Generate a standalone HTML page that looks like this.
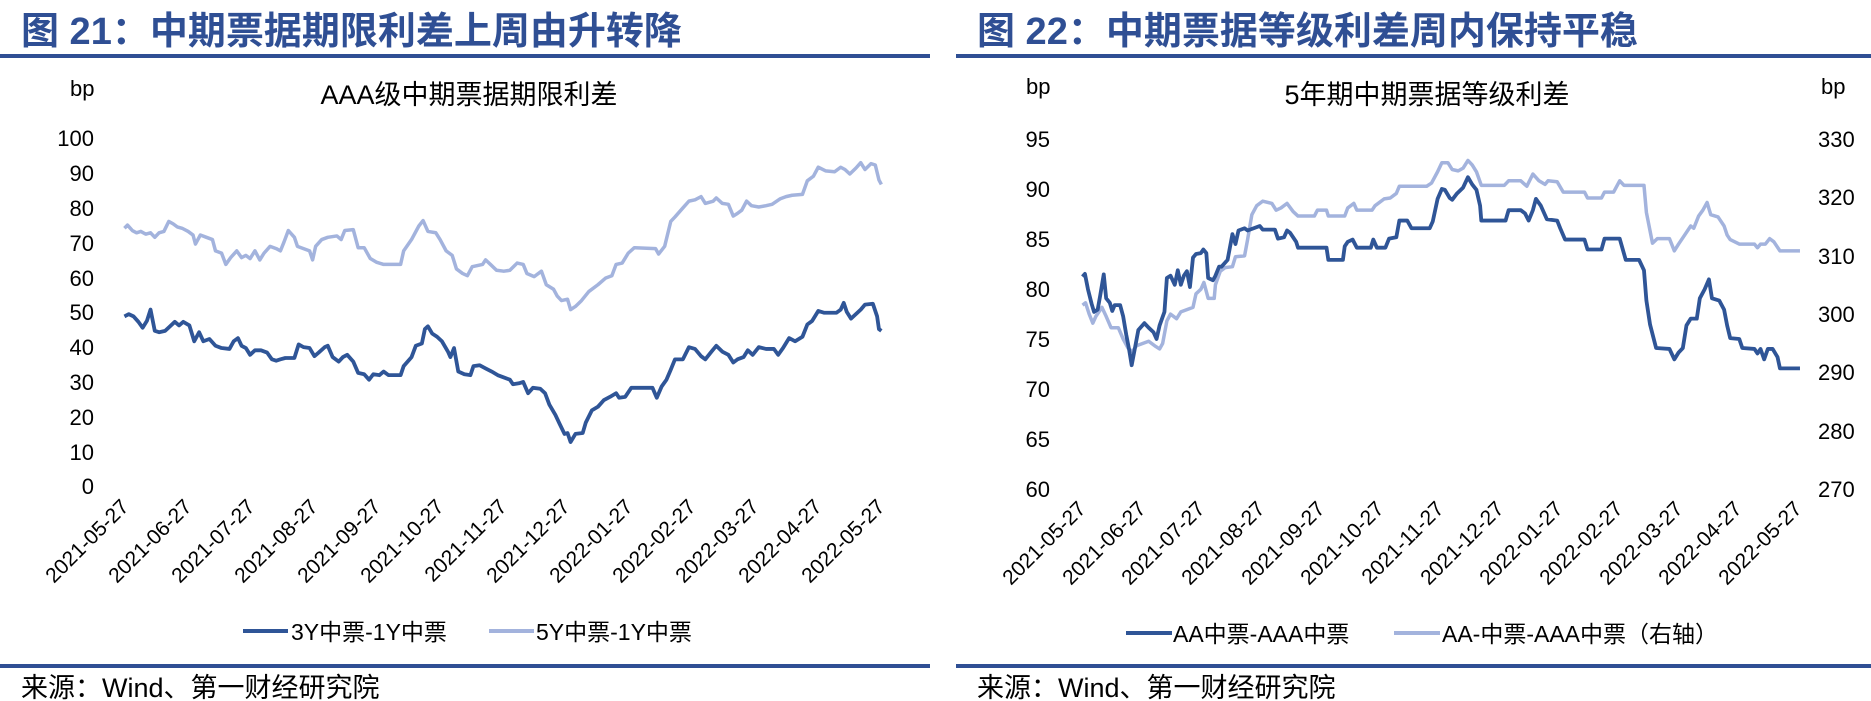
<!DOCTYPE html>
<html><head><meta charset="utf-8"><style>
html,body{margin:0;padding:0;background:#fff;width:1871px;height:701px;overflow:hidden}
svg{display:block}
text{font-family:"Liberation Sans","Noto Sans CJK SC",sans-serif;fill:#000}
.t{font-size:38px;font-weight:bold;fill:#2F4F94}
.ct{font-size:27px}
.yl{font-size:22px}
.xl{font-size:21px}
.lg{font-size:23px}
.src{font-size:27px}
</style></head><body>
<svg width="1871" height="701" viewBox="0 0 1871 701" xmlns="http://www.w3.org/2000/svg">
<!-- LEFT PANEL -->
<text class="t" x="21" y="44">图 21：中期票据期限利差上周由升转降</text>
<rect x="0" y="54" width="930" height="4" fill="#2F4F94"/>
<text class="ct" x="469" y="104" text-anchor="middle">AAA级中期票据期限利差</text>
<text class="yl" x="70" y="96">bp</text>
<g class="yl" text-anchor="end">
<text x="94" y="146">100</text><text x="94" y="181">90</text><text x="94" y="216">80</text>
<text x="94" y="251">70</text><text x="94" y="286">60</text><text x="94" y="320">50</text>
<text x="94" y="355">40</text><text x="94" y="390">30</text><text x="94" y="425">20</text>
<text x="94" y="460">10</text><text x="94" y="494">0</text>
</g>
<g class="xl" text-anchor="end">
<text transform="translate(130,508) rotate(-45)">2021-05-27</text>
<text transform="translate(193,508) rotate(-45)">2021-06-27</text>
<text transform="translate(256,508) rotate(-45)">2021-07-27</text>
<text transform="translate(319,508) rotate(-45)">2021-08-27</text>
<text transform="translate(382,508) rotate(-45)">2021-09-27</text>
<text transform="translate(445,508) rotate(-45)">2021-10-27</text>
<text transform="translate(508,508) rotate(-45)">2021-11-27</text>
<text transform="translate(571,508) rotate(-45)">2021-12-27</text>
<text transform="translate(634,508) rotate(-45)">2022-01-27</text>
<text transform="translate(697,508) rotate(-45)">2022-02-27</text>
<text transform="translate(760,508) rotate(-45)">2022-03-27</text>
<text transform="translate(823,508) rotate(-45)">2022-04-27</text>
<text transform="translate(886,508) rotate(-45)">2022-05-27</text>
</g>
<g transform="scale(0.607,0.452)" fill="none" stroke-linejoin="round">
<polyline vector-effect="non-scaling-stroke" stroke="#A3B3DD" stroke-width="3.5" points="205,505 210,498 218,510 225,515 232,512 240,518 248,515 255,525 262,515 270,512 278,490 285,495 292,502 300,505 310,512 318,520 322,540 330,520 340,525 350,530 355,555 365,560 372,585 380,570 390,555 398,570 405,565 412,572 420,555 428,575 435,560 445,545 455,550 462,555 468,535 475,510 485,525 490,545 500,550 510,555 515,575 520,545 530,530 540,525 555,522 562,530 568,510 582,508 590,548 600,548 610,572 620,580 632,585 660,585 665,555 678,530 690,500 697,488 705,512 718,515 725,530 735,555 745,565 752,595 762,605 770,610 778,590 795,585 800,575 808,585 818,598 830,600 840,598 852,582 862,585 868,605 880,612 892,600 900,630 912,640 918,655 925,665 935,662 940,685 948,678 958,665 970,645 985,630 998,615 1008,610 1015,585 1025,582 1035,560 1045,548 1080,550 1085,562 1095,545 1105,490 1112,480 1125,460 1135,445 1145,442 1155,435 1162,450 1175,445 1180,438 1190,450 1200,452 1208,478 1215,472 1222,465 1230,445 1238,455 1250,458 1262,455 1272,452 1285,440 1295,435 1305,432 1322,430 1330,400 1340,390 1348,370 1360,378 1375,380 1385,370 1392,375 1400,385 1410,372 1418,360 1425,375 1435,362 1442,365 1448,398 1452,408"/>
<polyline vector-effect="non-scaling-stroke" stroke="#2F5597" stroke-width="3.8" points="205,700 212,695 220,700 228,712 235,725 242,710 248,685 255,732 262,735 272,732 280,722 288,712 295,720 302,712 312,720 320,755 328,735 335,755 345,750 355,765 365,770 378,772 385,755 392,748 398,765 405,770 412,785 420,775 430,775 440,780 448,795 455,798 462,795 470,792 485,792 492,762 500,768 510,770 518,788 525,780 535,768 540,765 548,790 558,800 565,790 572,785 582,800 590,825 600,828 608,840 615,828 625,830 632,822 640,830 660,830 665,810 678,790 685,765 695,760 700,728 705,722 712,738 720,745 728,755 738,778 742,790 748,770 755,822 765,828 775,830 780,810 790,808 800,815 810,822 820,830 830,835 840,840 845,850 855,848 862,845 870,870 878,858 890,860 898,870 905,895 915,918 922,938 930,960 935,958 940,978 948,960 960,958 965,935 975,908 985,900 995,885 1005,878 1015,870 1020,880 1030,878 1040,858 1075,858 1082,880 1090,855 1098,840 1105,818 1112,795 1125,795 1135,768 1145,772 1155,788 1162,795 1172,778 1180,765 1190,778 1200,785 1208,802 1215,795 1225,790 1232,775 1240,785 1250,768 1262,772 1275,772 1282,785 1290,770 1300,748 1310,755 1322,745 1330,718 1338,710 1348,688 1358,692 1378,692 1385,685 1390,670 1395,690 1402,705 1410,695 1418,685 1425,674 1438,672 1445,700 1448,728 1452,732"/>
</g>
<rect x="243" y="629" width="45" height="4" fill="#2F5597"/>
<text class="lg" x="291" y="640">3Y中票-1Y中票</text>
<rect x="489" y="629" width="45" height="4" fill="#A3B3DD"/>
<text class="lg" x="536" y="640">5Y中票-1Y中票</text>
<rect x="0" y="664" width="930" height="4" fill="#2F4F94"/>
<text class="src" x="21" y="697">来源：Wind、第一财经研究院</text>

<!-- RIGHT PANEL -->
<text class="t" x="977" y="44">图 22：中期票据等级利差周内保持平稳</text>
<rect x="956" y="54" width="915" height="4" fill="#2F4F94"/>
<text class="ct" x="1427" y="104" text-anchor="middle">5年期中期票据等级利差</text>
<text class="yl" x="1026" y="94">bp</text>
<text class="yl" x="1821" y="94">bp</text>
<g class="yl" text-anchor="end">
<text x="1050" y="147">95</text><text x="1050" y="197">90</text><text x="1050" y="247">85</text>
<text x="1050" y="297">80</text><text x="1050" y="347">75</text><text x="1050" y="397">70</text>
<text x="1050" y="447">65</text><text x="1050" y="497">60</text>
</g>
<g class="yl">
<text x="1818" y="147">330</text><text x="1818" y="205">320</text><text x="1818" y="264">310</text>
<text x="1818" y="322">300</text><text x="1818" y="380">290</text><text x="1818" y="439">280</text>
<text x="1818" y="497">270</text>
</g>
<g class="xl" text-anchor="end">
<text transform="translate(1087,510) rotate(-45)">2021-05-27</text>
<text transform="translate(1147,510) rotate(-45)">2021-06-27</text>
<text transform="translate(1206,510) rotate(-45)">2021-07-27</text>
<text transform="translate(1266,510) rotate(-45)">2021-08-27</text>
<text transform="translate(1326,510) rotate(-45)">2021-09-27</text>
<text transform="translate(1385,510) rotate(-45)">2021-10-27</text>
<text transform="translate(1445,510) rotate(-45)">2021-11-27</text>
<text transform="translate(1505,510) rotate(-45)">2021-12-27</text>
<text transform="translate(1564,510) rotate(-45)">2022-01-27</text>
<text transform="translate(1624,510) rotate(-45)">2022-02-27</text>
<text transform="translate(1684,510) rotate(-45)">2022-03-27</text>
<text transform="translate(1743,510) rotate(-45)">2022-04-27</text>
<text transform="translate(1803,510) rotate(-45)">2022-05-27</text>
</g>
<g transform="translate(935,0) scale(0.607,0.452)" fill="none" stroke-linejoin="round">
<polyline vector-effect="non-scaling-stroke" stroke="#A3B3DD" stroke-width="3.5" points="243,675 248,670 254,695 260,715 265,700 270,690 275,680 282,700 290,725 302,725 310,750 318,770 325,778 332,765 342,760 352,755 362,765 370,772 375,760 382,710 388,695 398,705 405,690 415,685 425,680 430,650 438,640 443,625 450,660 460,660 462,630 470,600 478,592 490,590 495,568 510,566 515,530 522,475 530,455 540,445 555,450 562,465 570,460 580,450 590,468 598,478 625,478 630,465 645,465 648,478 675,478 680,460 690,450 695,465 720,465 725,455 740,440 750,438 760,428 765,412 810,412 818,405 828,380 835,360 845,360 852,375 862,378 870,372 878,355 885,365 892,380 900,410 938,410 945,400 965,400 975,412 985,385 995,400 1005,408 1010,400 1025,402 1035,425 1070,425 1075,438 1098,438 1103,425 1118,425 1128,400 1135,410 1168,410 1172,470 1182,538 1190,528 1210,528 1218,555 1225,540 1235,520 1245,500 1250,505 1258,478 1265,465 1272,448 1278,475 1290,480 1300,500 1305,520 1310,530 1325,540 1350,540 1355,548 1360,540 1368,540 1375,528 1382,535 1392,555 1425,555"/>
<polyline vector-effect="non-scaling-stroke" stroke="#2F5597" stroke-width="3.8" points="243,612 247,606 252,640 258,672 262,690 268,685 272,655 278,607 282,660 288,670 292,688 296,675 305,675 310,700 315,740 320,775 324,808 328,780 335,730 345,715 352,725 360,735 365,750 370,720 378,690 382,615 388,610 395,630 400,598 405,630 410,610 415,600 420,635 425,570 430,562 438,560 442,552 447,560 450,615 458,620 462,610 468,590 472,590 482,575 490,518 495,540 500,510 510,505 515,510 525,505 535,500 540,508 560,508 565,528 575,525 580,510 585,515 595,535 598,548 645,548 648,575 672,575 675,545 680,535 688,530 695,548 718,548 722,530 728,548 742,548 748,528 760,525 765,488 778,488 785,505 815,505 820,490 828,440 835,418 840,420 848,438 852,442 860,428 870,415 878,392 885,408 892,420 898,455 900,488 940,488 945,465 965,465 972,472 978,488 985,465 990,440 998,455 1008,485 1025,488 1030,505 1038,530 1070,530 1075,552 1098,552 1103,528 1128,528 1138,575 1160,575 1168,598 1172,665 1178,718 1188,770 1210,772 1218,795 1225,780 1232,770 1238,720 1245,705 1255,705 1260,660 1268,640 1275,618 1280,660 1292,665 1300,685 1305,720 1310,748 1325,750 1330,770 1350,772 1355,782 1360,772 1366,795 1372,772 1380,772 1388,790 1392,815 1425,815"/>
</g>
<rect x="1126" y="631" width="46" height="4" fill="#2F5597"/>
<text class="lg" x="1173" y="642">AA中票-AAA中票</text>
<rect x="1394" y="631" width="46" height="4" fill="#A3B3DD"/>
<text class="lg" x="1442" y="642">AA-中票-AAA中票（右轴）</text>
<rect x="956" y="664" width="915" height="4" fill="#2F4F94"/>
<text class="src" x="977" y="697">来源：Wind、第一财经研究院</text>
</svg>
</body></html>
